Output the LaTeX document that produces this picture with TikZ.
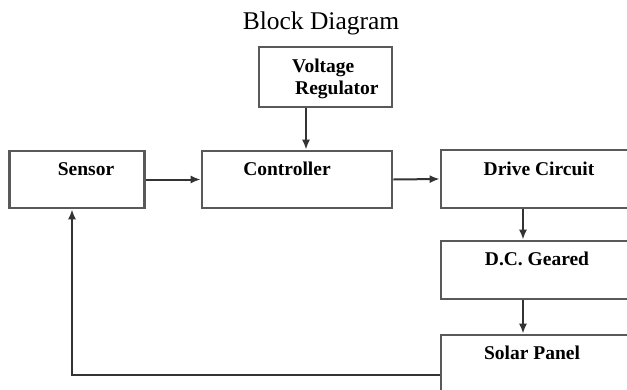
\documentclass[tikz,border=0pt]{standalone}
\usepackage{fontspec}
\setmainfont{Liberation Serif}
\usetikzlibrary{arrows.meta}

\tikzset{
  blk/.style={draw=black!65, line width=2.6pt, fill=white, inner sep=0pt},
  txt/.style={font=\fontsize{19.5}{22}\selectfont\bfseries, text=black, inner sep=0pt},
  arr/.style={draw=black!80, line width=2pt, -{Latex[length=10pt,width=8pt]}},
}

\begin{document}
\begin{tikzpicture}[x=1pt, y=-1pt]
  \useasboundingbox (0,0) rectangle (627,389);
  \clip (0,0) rectangle (627,389);

  \node[font=\fontsize{25.5}{28}\selectfont] (title) at (321,23) {Block Diagram};

  % blocks
  \node[blk, minimum width=133pt, minimum height=60pt] (vr) at (325.5,77) {};
  \node[blk, minimum width=135pt, minimum height=57pt] (sensor) at (77,179.5) {};
  \node[blk, minimum width=190pt, minimum height=57pt] (controller) at (297,179.5) {};
  \node[blk, minimum width=259pt, minimum height=58pt] (drive) at (570.5,179) {};
  \node[blk, minimum width=259pt, minimum height=58pt] (geared) at (570.5,270) {};
  \node[blk, minimum width=259pt, minimum height=85pt] (solar) at (570.5,377.5) {};

  % texts
  \node[txt, anchor=west, align=left] (vr-t) at (292,79) {Voltage\\\hspace*{3pt}Regulator};
  \node[txt] (sensor-t) at (86,169) {Sensor};
  \node[txt] (controller-t) at (287,169) {Controller};
  \node[txt] (drive-t) at (539,169) {Drive Circuit};
  \node[txt] (geared-t) at (537,259) {D.C. Geared};
  \node[txt] (solar-t) at (532,353) {Solar Panel};

  % connectors
  \coordinate (vrx) at (306,0);
  \coordinate (dcx) at (523,0);
  \coordinate (fb) at (72,375);
  \draw[arr] (vr.south -| vrx) -- (controller.north -| vrx);
  \draw[arr] (sensor.east) -- (controller.west);
  \draw[arr] (controller.east) -- (drive.west);
  \draw[arr] (drive.south -| dcx) -- (geared.north -| dcx);
  \draw[arr] (geared.south -| dcx) -- (solar.north -| dcx);
  \draw[arr] (solar.west |- fb) -- (fb) -- (sensor.south -| fb);
\end{tikzpicture}
\end{document}
